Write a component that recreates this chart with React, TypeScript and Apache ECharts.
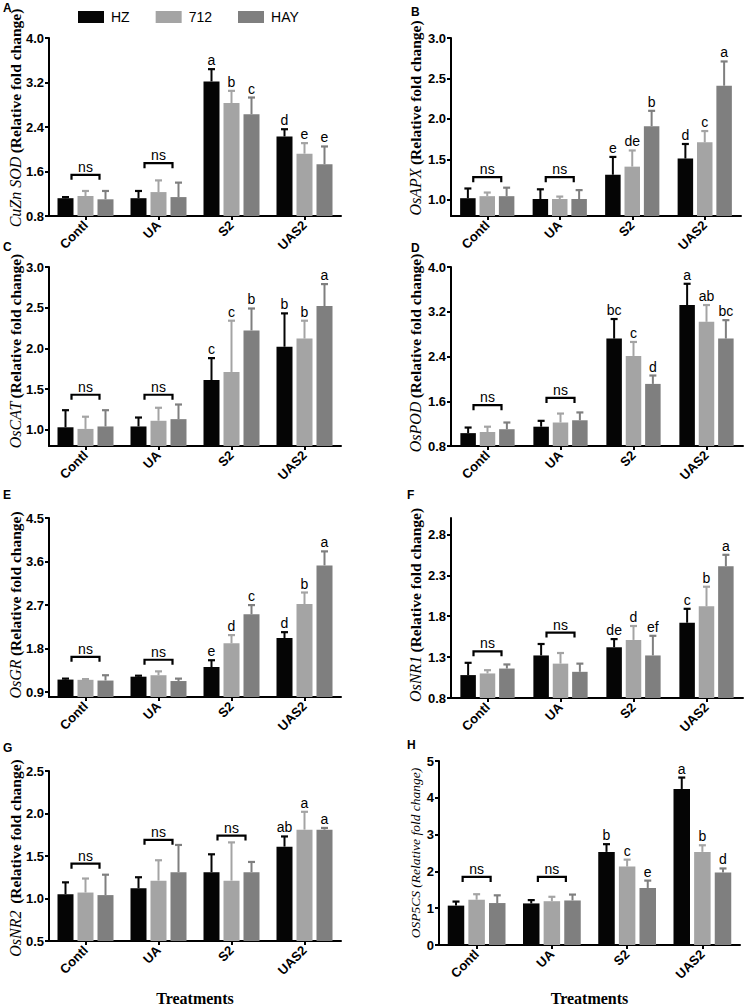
import React, { useEffect, useRef } from 'react';
import * as echarts from 'echarts';

// ---------- data ----------
const categories = ['Contl', 'UA', 'S2', 'UAS2'];
const seriesNames = ['HZ', '712', 'HAY'];

// A  CuZn SOD  (rows: HZ, 712, HAY)
const sodMeans = [[1.12, 1.12, 3.22, 2.23], [1.16, 1.23, 2.83, 1.92], [1.10, 1.14, 2.63, 1.73]];
const sodSd = [[0.02, 0.13, 0.22, 0.13], [0.09, 0.21, 0.22, 0.19], [0.15, 0.26, 0.30, 0.32]];
const sodLetters = [['', '', 'a', 'd'], ['', '', 'b', 'e'], ['', '', 'c', 'e']];
const sodNs = [[0, 1.54], [1, 1.75]];
const sodTicks = [0.8, 1.6, 2.4, 3.2, 4.0];

// B  OsAPX
const apxMeans = [[1.02, 1.01, 1.31, 1.51], [1.045, 1.01, 1.41, 1.71], [1.045, 1.01, 1.91, 2.41]];
const apxSd = [[0.12, 0.12, 0.22, 0.18], [0.045, 0.03, 0.20, 0.14], [0.105, 0.11, 0.19, 0.30]];
const apxLetters = [['', '', 'e', 'd'], ['', '', 'de', 'c'], ['', '', 'b', 'a']];
const apxNs = [[0, 1.28], [1, 1.28]];
const apxTicks = [1.0, 1.5, 2.0, 2.5, 3.0];

// C  OsCAT
const catMeans = [[1.03, 1.04, 1.61, 2.02], [1.01, 1.11, 1.71, 2.12], [1.04, 1.13, 2.22, 2.52]];
const catSd = [[0.21, 0.11, 0.27, 0.41], [0.15, 0.16, 0.63, 0.22], [0.20, 0.18, 0.27, 0.27]];
const catLetters = [['', '', 'c', 'b'], ['', '', 'c', 'b'], ['', '', 'b', 'a']];
const catNs = [[0, 1.43], [1, 1.43]];
const catTicks = [1.0, 1.5, 2.0, 2.5, 3.0];

// D  OsPOD
const podMeans = [[1.03, 1.145, 2.72, 3.32], [1.05, 1.22, 2.41, 3.02], [1.10, 1.26, 1.91, 2.72]];
const podSd = [[0.10, 0.105, 0.35, 0.38], [0.095, 0.16, 0.25, 0.30], [0.12, 0.14, 0.15, 0.33]];
const podLetters = [['', '', 'bc', 'a'], ['', '', 'c', 'ab'], ['', '', 'd', 'bc']];
const podNs = [[0, 1.53], [1, 1.66]];
const podTicks = [0.8, 1.6, 2.4, 3.2, 4.0];

// E  OsGR
const grMeans = [[1.16, 1.22, 1.42, 2.02], [1.155, 1.25, 1.91, 2.72], [1.14, 1.13, 2.51, 3.52]];
const grSd = [[0.02, 0.02, 0.14, 0.12], [0.015, 0.08, 0.17, 0.24], [0.11, 0.05, 0.19, 0.29]];
const grLetters = [['', '', 'e', 'd'], ['', '', 'd', 'b'], ['', '', 'c', 'a']];
const grNs = [[0, 1.63], [1, 1.57]];
const grTicks = [0.9, 1.8, 2.7, 3.6, 4.5];

// F  OsNR1
const nr1Means = [[1.08, 1.32, 1.42, 1.72], [1.10, 1.22, 1.51, 1.92], [1.16, 1.12, 1.32, 2.41]];
const nr1Sd = [[0.15, 0.14, 0.10, 0.17], [0.04, 0.13, 0.17, 0.24], [0.05, 0.10, 0.24, 0.14]];
const nr1Letters = [['', '', 'de', 'c'], ['', '', 'd', 'b'], ['', '', 'ef', 'a']];
const nr1Ns = [[0, 1.37], [1, 1.60]];
const nr1Ticks = [0.8, 1.3, 1.8, 2.3, 2.8];

// G  OsNR2
const nr2Means = [[1.05, 1.12, 1.31, 1.61], [1.07, 1.21, 1.21, 1.81], [1.04, 1.31, 1.31, 1.81]];
const nr2Sd = [[0.14, 0.13, 0.21, 0.12], [0.165, 0.24, 0.45, 0.21], [0.24, 0.32, 0.12, 0.02]];
const nr2Letters = [['', '', '', 'ab'], ['', '', '', 'a'], ['', '', '', 'a']];
const nr2Ns = [[0, 1.41], [1, 1.69], [2, 1.74]];
const nr2Ticks = [0.5, 1.0, 1.5, 2.0, 2.5];

// H  OsP5CS
const p5csMeans = [[1.07, 1.13, 2.53, 4.24], [1.23, 1.19, 2.13, 2.53], [1.14, 1.21, 1.55, 1.97]];
const p5csSd = [[0.11, 0.09, 0.21, 0.31], [0.15, 0.12, 0.19, 0.18], [0.21, 0.16, 0.20, 0.11]];
const p5csLetters = [['', '', 'b', 'a'], ['', '', 'c', 'b'], ['', '', 'e', 'd']];
const p5csNs = [[0, 1.85], [1, 1.85]];
const p5csTicks = [0, 1, 2, 3, 4, 5];

// ---------- panel table ----------
const panels = [
  { tag: 'A', gene: 'CuZn SOD', means: sodMeans, sds: sodSd, letters: sodLetters, ns: sodNs, ticks: sodTicks, min: 0.8, max: 4.0, dec: 1 },
  { tag: 'B', gene: 'OsAPX', means: apxMeans, sds: apxSd, letters: apxLetters, ns: apxNs, ticks: apxTicks, min: 0.8, max: 3.0, dec: 1 },
  { tag: 'C', gene: 'OsCAT', means: catMeans, sds: catSd, letters: catLetters, ns: catNs, ticks: catTicks, min: 0.8, max: 3.0, dec: 1 },
  { tag: 'D', gene: 'OsPOD', means: podMeans, sds: podSd, letters: podLetters, ns: podNs, ticks: podTicks, min: 0.8, max: 4.0, dec: 1 },
  { tag: 'E', gene: 'OsGR', means: grMeans, sds: grSd, letters: grLetters, ns: grNs, ticks: grTicks, min: 0.8, max: 4.5, dec: 1 },
  { tag: 'F', gene: 'OsNR1', means: nr1Means, sds: nr1Sd, letters: nr1Letters, ns: nr1Ns, ticks: nr1Ticks, min: 0.8, max: 3.0, dec: 1 },
  { tag: 'G', gene: 'OsNR2', means: nr2Means, sds: nr2Sd, letters: nr2Letters, ns: nr2Ns, ticks: nr2Ticks, min: 0.5, max: 2.5, dec: 1 },
  { tag: 'H', gene: 'OSP5CS', means: p5csMeans, sds: p5csSd, letters: p5csLetters, ns: p5csNs, ticks: p5csTicks, min: 0, max: 5, dec: 0 },
];

// ---------- layout / style ----------
const colors = ['#050505', '#a4a4a4', '#7f7f7f'];
const layouts = [
  { left: 49, top: 38, width: 292, height: 178, bw: 16, tagX: 3, tagY: 2, nameX: 15, nameY: 118, tGap: 0 },
  { left: 451, top: 38, width: 290, height: 178, bw: 15.5, tagX: 411, tagY: 6, nameX: 415, nameY: 118, tGap: 0 },
  { left: 49, top: 267, width: 292, height: 179, bw: 16, tagX: 3, tagY: 241, nameX: 15, nameY: 351, tGap: 0 },
  { left: 451, top: 267, width: 292, height: 179, bw: 15.5, tagX: 411, tagY: 242, nameX: 415, nameY: 353, tGap: 0 },
  { left: 49, top: 518, width: 292, height: 179, bw: 16, tagX: 3, tagY: 489, nameX: 15, nameY: 605, tGap: 0 },
  { left: 451, top: 518, width: 292, height: 180, bw: 15.5, tagX: 407, tagY: 489, nameX: 415, nameY: 605, tGap: 0 },
  { left: 49, top: 771, width: 292, height: 178, bw: 16, tagX: 3, tagY: 742, nameX: 15, nameY: 858, tGap: 49 },
  { left: 439, top: 761, width: 301, height: 184, bw: 16.5, tagX: 407, tagY: 739, nameX: 415, nameY: 853, tGap: 45 },
];

const SANS = 'Liberation Sans';
const SERIF = 'Liberation Serif';

function buildOption() {
  const grid: any[] = [];
  const xAxis: any[] = [];
  const yAxis: any[] = [];
  const series: any[] = [];
  const graphic: any[] = [];

  panels.forEach((p, pi) => {
    const L = layouts[pi];
    grid.push({ left: L.left, top: L.top, width: L.width, height: L.height, containLabel: false });
    const showName = p.tag === 'G' || p.tag === 'H';
    xAxis.push({
      type: 'category', gridIndex: pi, data: categories,
      axisLine: { show: true, lineStyle: { color: '#000', width: 2 } },
      axisTick: { show: true, alignWithLabel: true, length: 4, lineStyle: { color: '#000', width: 2 } },
      axisLabel: { rotate: 45, interval: 0, margin: 7, fontSize: 13, fontWeight: 'bold', fontFamily: SANS, color: '#000' },
      name: showName ? 'Treatments' : '',
      nameLocation: 'middle',
      nameGap: L.tGap,
      nameTextStyle: { fontFamily: SERIF, fontWeight: 'bold', fontSize: 16, color: '#000' },
    });
    yAxis.push({
      type: 'value', gridIndex: pi, min: p.min, max: p.max,
      splitLine: { show: false },
      axisLine: { show: true, lineStyle: { color: '#000', width: 2 } },
      axisTick: { show: true, length: 4, lineStyle: { color: '#000', width: 2 }, customValues: p.ticks },
      axisLabel: {
        customValues: p.ticks, margin: 5,
        formatter: (v: number) => Number(v).toFixed(p.dec),
        fontSize: 13, fontWeight: 'bold', fontFamily: SANS, color: '#000',
      },
    });

    const bw = L.bw;
    for (let s = 0; s < 3; s++) {
      series.push({
        type: 'bar', name: seriesNames[s], xAxisIndex: pi, yAxisIndex: pi,
        data: p.means[s], barWidth: bw, barGap: '25%',
        itemStyle: { color: colors[s] }, z: 2, silent: true,
      });
    }
    for (let s = 0; s < 3; s++) {
      const lets = p.letters[s];
      const col = colors[s];
      series.push({
        type: 'custom', xAxisIndex: pi, yAxisIndex: pi, z: 3, silent: true, clip: false,
        data: p.means[s].map((m, i) => [i, m, m + p.sds[s][i]]),
        renderItem: (params: any, api: any) => {
          const i = params.dataIndex;
          const base = api.coord([api.value(0), api.value(1)]);
          const top = api.coord([api.value(0), api.value(2)]);
          const x = base[0] + (s - 1) * bw * 1.25;
          const children: any[] = [
            { type: 'line', shape: { x1: x, y1: base[1], x2: x, y2: top[1] }, style: { stroke: col, lineWidth: 2 } },
            { type: 'line', shape: { x1: x - 3.5, y1: top[1], x2: x + 3.5, y2: top[1] }, style: { stroke: col, lineWidth: 2.2 } },
          ];
          if (lets[i]) {
            children.push({
              type: 'text', x, y: top[1] - 2,
              style: { text: lets[i], align: 'center', verticalAlign: 'bottom', textAlign: 'center', textVerticalAlign: 'bottom', fontSize: 14, fontFamily: SANS, fill: '#000' },
            });
          }
          return { type: 'group', children };
        },
      });
    }
    series.push({
      type: 'custom', xAxisIndex: pi, yAxisIndex: pi, z: 4, silent: true, clip: false,
      data: p.ns.map((d) => [d[0], d[1]]),
      renderItem: (params: any, api: any) => {
        const c = api.coord([api.value(0), api.value(1)]);
        const hw = 14;
        return {
          type: 'group',
          children: [
            { type: 'polyline', shape: { points: [[c[0] - hw, c[1] + 5], [c[0] - hw, c[1]], [c[0] + hw, c[1]], [c[0] + hw, c[1] + 5]] }, style: { stroke: '#000', lineWidth: 2.2, fill: null } },
            { type: 'text', x: c[0], y: c[1] - 1, style: { text: 'ns', align: 'center', verticalAlign: 'bottom', textAlign: 'center', textVerticalAlign: 'bottom', fontSize: 14, fontFamily: SANS, fill: '#000' } },
          ],
        };
      },
    });

    graphic.push({
      type: 'text', left: L.tagX, top: L.tagY,
      style: { text: p.tag, fontSize: 12, fontWeight: 'bold', fontFamily: SANS, fill: '#000' },
    });
    const nameText = p.tag === 'H'
      ? '{h|OSP5CS (Relative fold change)}'
      : p.tag === 'G'
        ? `{i|${p.gene}}  {b|(Relative fold change)}`
        : `{i|${p.gene}} {b|(Relative fold change)}`;
    graphic.push({
      type: 'text', x: L.nameX, y: L.nameY, rotation: Math.PI / 2,
      style: {
        text: nameText, align: 'center', verticalAlign: 'middle', textAlign: 'center', textVerticalAlign: 'middle',
        fill: '#000',
        rich: {
          i: { fontFamily: SERIF, fontStyle: 'italic', fontSize: 16, fill: '#000' },
          b: { fontFamily: SERIF, fontWeight: 'bold', fontSize: 15.5, fill: '#000' },
          h: { fontFamily: SERIF, fontStyle: 'italic', fontSize: 13.5, fill: '#000' },
        },
      },
    });
  });

  return {
    animation: false,
    backgroundColor: '#fff',
    legend: {
      data: seriesNames, left: 73, top: 5, icon: 'rect',
      itemWidth: 26, itemHeight: 12, itemGap: 26,
      textStyle: { fontSize: 14, fontFamily: SANS, color: '#000', padding: [0, 0, 0, 2] },
      selectedMode: false,
    },
    grid, xAxis, yAxis, series, graphic,
  };
}

export default function App() {
  const ref = useRef<HTMLDivElement>(null);
  useEffect(() => {
    if (!ref.current) return;
    const chart = echarts.init(ref.current, undefined, { renderer: 'svg' });
    chart.setOption(buildOption() as any);
    return () => chart.dispose();
  }, []);
  return <div ref={ref} style={{ position: 'absolute', left: 0, top: 0, width: 745, height: 1007 }} />;
}
